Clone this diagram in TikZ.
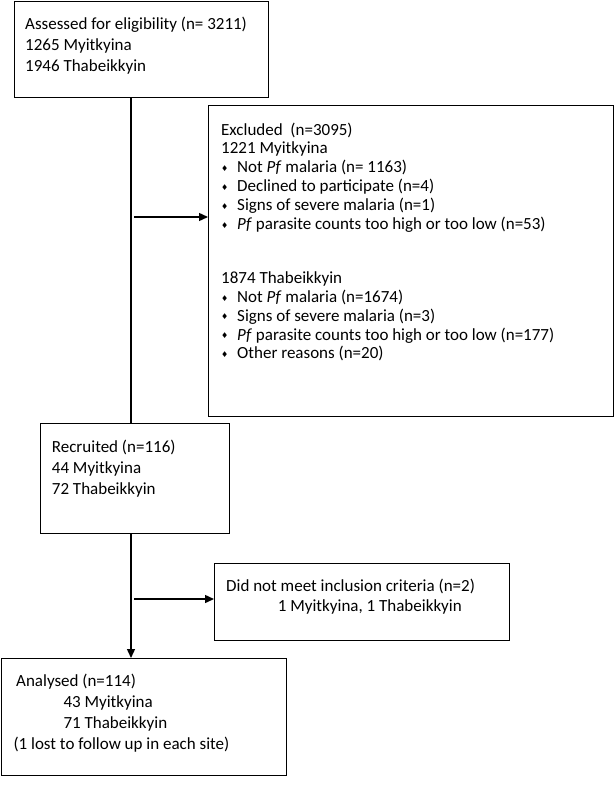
\documentclass[tikz,border=0pt]{standalone}
\usepackage{fontspec}
\setmainfont{Carlito}
\newfontfamily\dejavu{DejaVu Sans}
\usetikzlibrary{arrows.meta}
\newcommand\dmd{\makebox[16pt][l]{{\dejavu\fontsize{8pt}{8pt}\selectfont\raisebox{1.2pt}{♦}}}}
\begin{document}
\begin{tikzpicture}[x=1pt,y=-1pt,
  box/.style={draw, line width=1pt, inner sep=0pt, outer sep=0pt, anchor=north west},
  txt/.style={anchor=base west, inner sep=0pt, font=\fontsize{17pt}{20pt}\selectfont},
  conn/.style={line width=1.4pt},
  arr/.style={line width=1.4pt, -{Triangle[length=9pt,width=8pt]}}]
\useasboundingbox (0,0) rectangle (615,785);

% boxes
\node[box, minimum width=254pt, minimum height=96pt] (b1) at (14,1) {};
\node[box, minimum width=405pt, minimum height=311pt] (b2) at (208,105) {};
\node[box, minimum width=189pt, minimum height=110pt] (b3) at (40,423) {};
\node[box, minimum width=295pt, minimum height=77pt] (b4) at (214,563) {};
\node[box, minimum width=285pt, minimum height=117pt] (b5) at (1,658) {};

% connectors
\coordinate (v) at (131,0);
\coordinate (e1) at (134,217);
\coordinate (e2) at (134,599);
\draw[conn] (b1.south -| v) -- (b3.north -| v);
\draw[arr] (e1) -- (e1 -| b2.west);
\draw[arr] (e2) -- (e2 -| b4.west);
\draw[arr] (b3.south -| v) -- (b5.north -| v);

% box 1
\node[txt] (t1a) at (25,29) {Assessed for eligibility (n= 3211)};
\node[txt] (t1b) at (25,50) {1265 Myitkyina};
\node[txt] (t1c) at (25,71) {1946 Thabeikkyin};

% box 2
\node[txt] (t2a) at (221,135) {Excluded\ \ (n=3095)};
\node[txt] (t2b) at (221,153.9) {1221 Myitkyina};
\node[txt] (t2c) at (221,172.8) {\dmd Not \textit{Pf} malaria (n= 1163)};
\node[txt] (t2d) at (221,191.7) {\dmd Declined to participate (n=4)};
\node[txt] (t2e) at (221,210.6) {\dmd Signs of severe malaria (n=1)};
\node[txt] (t2f) at (221,229.5) {\dmd \textit{Pf} parasite counts too high or too low (n=53)};
\node[txt] (t2g) at (221,283.3) {1874 Thabeikkyin};
\node[txt] (t2h) at (221,302.2) {\dmd Not \textit{Pf} malaria (n=1674)};
\node[txt] (t2i) at (221,321.1) {\dmd Signs of severe malaria (n=3)};
\node[txt] (t2j) at (221,340) {\dmd \textit{Pf} parasite counts too high or too low (n=177)};
\node[txt] (t2k) at (221,358.9) {\dmd Other reasons (n=20)};

% box 3
\node[txt] (t3a) at (51.7,452.3) {Recruited (n=116)};
\node[txt] (t3b) at (51.7,473.3) {44 Myitkyina};
\node[txt] (t3c) at (51.7,494) {72 Thabeikkyin};

% box 4
\node[txt] (t4a) at (226,591.7) {Did not meet inclusion criteria (n=2)};
\node[txt] (t4b) at (277.7,611) {1 Myitkyina, 1 Thabeikkyin};

% box 5
\node[txt] (t5a) at (16,686) {Analysed (n=114)};
\node[txt] (t5b) at (63.3,707.3) {43 Myitkyina};
\node[txt] (t5c) at (63.3,728.3) {71 Thabeikkyin};
\node[txt] (t5d) at (13.3,749) {(1 lost to follow up in each site)};
\end{tikzpicture}
\end{document}
